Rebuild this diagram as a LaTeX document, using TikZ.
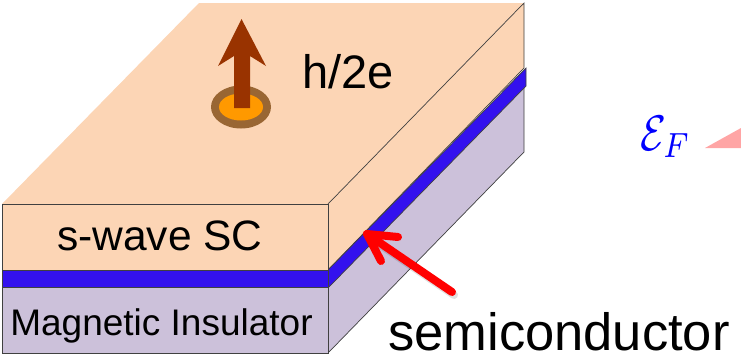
\documentclass[tikz,border=0pt]{standalone}
\usepackage{fontspec}
\setmainfont{Liberation Sans}
\usepackage{xcolor}
\definecolor{scpeach}{RGB}{252,213,181}
\definecolor{mililac}{RGB}{204,193,218}
\definecolor{semiblue}{RGB}{51,17,238}
\definecolor{vortexdark}{RGB}{153,51,0}
\definecolor{ringbrown}{RGB}{153,102,51}
\definecolor{ringorange}{RGB}{255,153,0}
\definecolor{edgegray}{RGB}{64,64,64}
\definecolor{gappink}{RGB}{255,165,165}
\usetikzlibrary{arrows.meta,positioning}
\newcommand{\pxfont}[1]{\fontsize{#1}{#1}\selectfont}

\begin{document}
\begin{tikzpicture}[
  x=1pt, y=-1pt,
  face/.style={draw=edgegray, line width=0.7pt},
  label/.style={inner sep=0pt, text=black, anchor=base},
  pointer/.style={draw=red, line width=8pt, line cap=round, line join=round}
]
\useasboundingbox (0,0) rectangle (741,354);

% Top face
\fill[scpeach] (2,204) -- (199,3) -- (524,3) -- (328,204) -- cycle;

% Side faces
\filldraw[face, fill=mililac]  (328,287) -- (524,86) -- (524,152) -- (328,353) -- cycle;
\filldraw[face, fill=scpeach]  (328,204) -- (524,3) -- (524,68) -- (328,270) -- cycle;
\filldraw[face, fill=semiblue] (328,270) -- (526,68) -- (526,86) -- (328,288) -- cycle;

% Front faces
\filldraw[face, fill=scpeach]  (2,204) rectangle (328,270);
\filldraw[face, fill=semiblue] (2,270) rectangle (328,287);
\filldraw[face, fill=mililac]  (2,287) rectangle (328,353);

% Vortex
\fill[ringbrown]  (241,107) ellipse [x radius=30, y radius=21.5];
\fill[ringorange] (241,107) ellipse [x radius=22, y radius=13.5];
\fill[vortexdark] (234,108) -- (234,56) -- (218,66) -- (241.5,19) -- (266,66) -- (250,56) -- (250,108) -- cycle;

% Labels
\node[label, font=\pxfont{47}] (flux) at (348,88)  {h/2e};
\node[label, font=\pxfont{42.5}] (sc)   at (160,250) {s-wave SC};
\node[label, font=\pxfont{37}] (mi)   at (161.5,335) {Magnetic Insulator};
\node[label, font=\pxfont{52.5}] (semi) at (559,350) {semiconductor};

% Fermi level
\node[inner sep=0pt, anchor=base, text=blue, xscale=4.2, yscale=5] (fermi) at (666,150) {$\mathcal{E}_F$};
\fill[gappink] (705,148) -- (741,128) -- (741,148) -- cycle;

% Pointer
\coordinate (tip) at (367,234);
\coordinate (tail) at (452,292);
\draw[pointer, draw=black, opacity=0.12] ([shift={(2,3)}]tail) -- ([shift={(2,3)}]tip);
\draw[pointer] (tail) -- (tip);
\draw[pointer] (398,237) -- (tip) -- (381,261);
\end{tikzpicture}
\end{document}
